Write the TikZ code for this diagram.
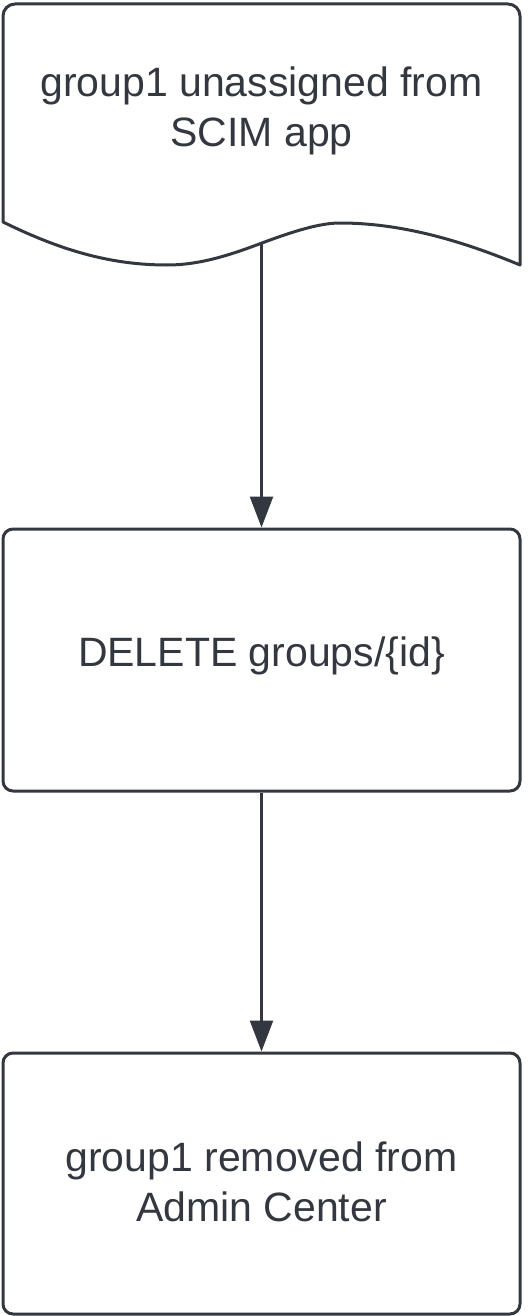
\documentclass[tikz,border=0pt]{standalone}
\usepackage{fontspec}
\setmainfont{Liberation Sans}
\usetikzlibrary{arrows.meta}
\definecolor{ink}{RGB}{51,56,64}
\begin{document}
\begin{tikzpicture}[x=1pt,y=-1pt,
  docshape/.style={draw=ink,line width=3pt,line join=round},
  box/.style={draw=ink,line width=3pt,rounded corners=10pt,rectangle,minimum width=517pt,inner sep=0pt},
  txt/.style={text=ink,font=\fontsize{41}{50}\selectfont,align=center,inner sep=0pt},
  conn/.style={draw=ink,line width=2.5pt,-{Triangle[length=31pt,width=23pt]}}
]
\useasboundingbox (0,0) rectangle (529,1316);
% document shape
\draw[docshape] (3,222) -- (3,16) .. controls (3,9.4) and (8.4,4) .. (15,4)
  -- (508,4) .. controls (514.6,4) and (520,9.4) .. (520,16) -- (520,265)
  .. controls (460,240) and (400,223) .. (340,223)
  .. controls (320,223) and (294,231) .. (262,243)
  .. controls (230,255) and (200,265) .. (167,265)
  .. controls (110,265) and (60,250) .. (3,222) -- cycle;
\coordinate (docout) at (261.5,243.5);
\node[txt] (t1) at (261.5,111.4) {group1 unassigned from\\SCIM app};
% boxes
\node[box,minimum height=262pt] (b2) at (261.5,660) {};
\node[txt] (t2) at (261.5,655.4) {DELETE groups/\{id\}};
\node[box,minimum height=261pt] (b3) at (261.5,1183.5) {};
\node[txt] (t3) at (261.5,1181.4) {group1 removed from\\Admin Center};
% connectors
\draw[conn] (docout) -- (b2.north);
\draw[conn] (b2.south) -- (b3.north);
\end{tikzpicture}
\end{document}
